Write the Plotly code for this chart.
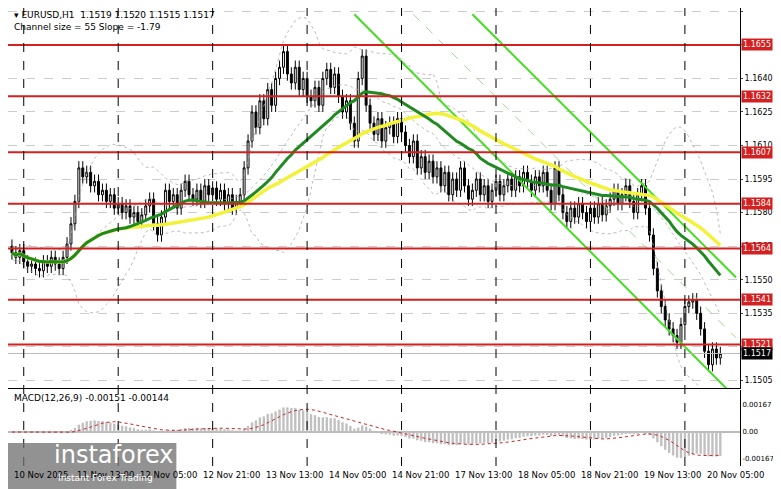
import numpy as np
import pandas as pd
import plotly.graph_objects as go

# hourly closes, bar 0 = 10 Nov 21:00
closes = [
    1.1562, 1.1560, 1.1563, 1.1558, 1.1556, 1.1557, 1.1555, 1.1554, 1.1558, 1.1556, 1.1560, 1.1557, 1.1555, 1.1560,
    1.1566, 1.1575, 1.1585, 1.1600, 1.1596, 1.1598,
    1.1592, 1.1594, 1.1588, 1.1590, 1.1585, 1.1588, 1.1582, 1.1584, 1.1580, 1.1583, 1.1578, 1.1580,
    1.1576, 1.1579, 1.1583, 1.1586, 1.1575, 1.1570, 1.1578, 1.1590, 1.1585, 1.1588, 1.1582,
    1.1590, 1.1594, 1.1588, 1.1586, 1.1590, 1.1585, 1.1592, 1.1588, 1.1591, 1.1586, 1.1590, 1.1584, 1.1588, 1.1582, 1.1585, 1.1588, 1.1600,
    1.1612, 1.1625, 1.1618, 1.1630, 1.1622, 1.1635, 1.1628, 1.1640, 1.1645, 1.1652, 1.1642,
    1.1638, 1.1645, 1.1635, 1.1640, 1.1632, 1.1630, 1.1636, 1.1628, 1.1640, 1.1644, 1.1636, 1.1642, 1.1632, 1.1625,
    1.1630, 1.1620, 1.1612, 1.1640, 1.1650, 1.1628,
    1.1620, 1.1615, 1.1622, 1.1612, 1.1618, 1.1620, 1.1614, 1.1622, 1.1616,
    1.1610, 1.1605, 1.1612, 1.1600, 1.1605, 1.1598, 1.1603, 1.1596, 1.1600, 1.1592, 1.1598, 1.1588, 1.1595, 1.1590, 1.1600, 1.1592, 1.1586,
    1.1590, 1.1595, 1.1588, 1.1592, 1.1585, 1.1590, 1.1594, 1.1588, 1.1592, 1.1595, 1.1590, 1.1596, 1.1592, 1.1598, 1.1594, 1.1590, 1.1596, 1.1592,
    1.1598, 1.1590, 1.1584, 1.1600, 1.1588, 1.1580, 1.1576, 1.1582, 1.1578, 1.1584, 1.1580, 1.1576, 1.1582, 1.1578, 1.1584, 1.1579,
    1.1583, 1.1586, 1.1590, 1.1584, 1.1588, 1.1592, 1.1585, 1.1580, 1.1588, 1.1592, 1.1582,
    1.1570, 1.1555, 1.1545, 1.1538, 1.1532, 1.1528, 1.1525, 1.1522,
    1.1530, 1.1538, 1.1540, 1.1541, 1.1535, 1.1528, 1.1518,
    1.1512, 1.1519, 1.1515, 1.1517,
]
first_open = 1.1565
wick = 0.0003

levels = [1.1655, 1.1632, 1.1607, 1.1584, 1.1564, 1.1541, 1.1521]
last_price = 1.1517
price_ticks = [1.1505, 1.1520, 1.1535, 1.1550, 1.1565, 1.1580, 1.1595, 1.1610, 1.1625, 1.1640, 1.1655, 1.1670]

tick_bars = [0, 16, 32, 48, 64, 80, 96, 112, 128, 144, 160, 176]
tick_text = ["10 Nov 2025", "11 Nov 13:00", "12 Nov 05:00", "12 Nov 21:00", "13 Nov 13:00",
             "14 Nov 05:00", "14 Nov 21:00", "17 Nov 13:00", "18 Nov 05:00", "18 Nov 21:00",
             "19 Nov 13:00", "20 Nov 05:00"]
day_bars = [3, 27, 51, 75, 99, 123, 147, 171]

# regression channel (bar, price) endpoints
chan_upper = [(117, 1.16687), (184, 1.1551)]
chan_mid = [(102, 1.16687), (184, 1.1524)]
chan_lower = [(87, 1.16687), (184, 1.1497)]

c = pd.Series(closes)
o = pd.Series([first_open] + closes[:-1])
h = np.maximum(o, c) + wick
l = np.minimum(o, c) - wick
x = np.arange(len(closes))

ma_fast = c.rolling(30, min_periods=1).mean()
ma_slow = c.rolling(50, min_periods=1).mean()
bb_mid = c.rolling(20, min_periods=1).mean()
bb_std = c.rolling(20, min_periods=2).std().bfill()
macd = c.ewm(span=12).mean() - c.ewm(span=26).mean()
signal = macd.rolling(9, min_periods=1).mean()

fig = go.Figure()
for band in (bb_mid + 2 * bb_std, bb_mid - 2 * bb_std, bb_mid):
    fig.add_trace(go.Scatter(x=x, y=band, mode="lines",
                             line=dict(color="#aaaaaa", width=0.8, dash="dot"), hoverinfo="skip"))
for pts, col, dash in ((chan_upper, "#44dd22", "solid"), (chan_mid, "#99dd88", "dash"),
                       (chan_lower, "#44dd22", "solid")):
    fig.add_trace(go.Scatter(x=[p[0] for p in pts], y=[p[1] for p in pts], mode="lines",
                             line=dict(color=col, width=2 if dash == "solid" else 1, dash=dash)))
fig.add_trace(go.Scatter(x=x, y=ma_slow, mode="lines", line=dict(color="#f2f23a", width=3.5)))
fig.add_trace(go.Scatter(x=x, y=ma_fast, mode="lines", line=dict(color="#1f8a1f", width=3)))
fig.add_trace(go.Candlestick(
    x=x, open=o, high=h, low=l, close=c,
    increasing=dict(fillcolor="white", line=dict(color="black", width=1)),
    decreasing=dict(fillcolor="black", line=dict(color="black", width=1)),
    whiskerwidth=0))

fig.add_trace(go.Bar(x=x, y=macd, marker=dict(color="#c0c0c0", line=dict(width=0)),
                     width=0.6, yaxis="y2", xaxis="x"))
fig.add_trace(go.Scatter(x=x, y=signal, mode="lines", yaxis="y2",
                         line=dict(color="#cc2222", width=1, dash="dot")))

lab_font = dict(color="white", size=8, family="DejaVu Sans")
for lv in levels:
    fig.add_shape(type="line", xref="paper", x0=0, x1=1, yref="y", y0=lv, y1=lv,
                  line=dict(color="#d42020", width=2))
    fig.add_annotation(xref="paper", x=1.002, yref="y", y=lv, text=f"{lv:.4f}", showarrow=False,
                       xanchor="left", bgcolor="#d42020", font=lab_font, borderpad=1)
fig.add_annotation(xref="paper", x=1.002, yref="y", y=last_price, text=f"{last_price:.4f}",
                   showarrow=False, xanchor="left", bgcolor="black", font=lab_font, borderpad=1)
fig.add_shape(type="line", xref="paper", x0=0, x1=1, yref="y", y0=last_price, y1=last_price,
              line=dict(color="#bbbbbb", width=1))
for b in day_bars:
    fig.add_shape(type="line", xref="x", x0=b, x1=b, yref="paper", y0=0, y1=1,
                  line=dict(color="black", width=1, dash="dash"))
for b, t in zip(tick_bars, tick_text):
    fig.add_annotation(xref="x", x=b, yref="paper", y=-0.005, text=t, showarrow=False,
                       xanchor="left", yanchor="top", font=dict(size=8.5, color="black"))

fig.add_annotation(xref="paper", x=0.005, yref="paper", y=1.0, xanchor="left", yanchor="top",
                   showarrow=False, align="left", font=dict(size=9, color="black"),
                   text="▾ EURUSD,H1  1.1519 1.1520 1.1515 1.1517<br>Channel size = 55 Slope = -1.79")
fig.add_annotation(xref="paper", x=0.005, yref="paper", y=0.163, xanchor="left", yanchor="top",
                   showarrow=False, font=dict(size=9, color="black"),
                   text="MACD(12,26,9) -0.00151 -0.00144")
fig.add_shape(type="rect", xref="paper", yref="paper", x0=-0.02, x1=0.23, y0=-0.07, y1=0.05,
              fillcolor="rgba(110,110,110,0.75)", line=dict(width=0))
fig.add_annotation(xref="paper", x=0.06, yref="paper", y=0.06, xanchor="left", yanchor="top",
                   showarrow=False, text="instaforex", font=dict(size=24, color="white"))
fig.add_annotation(xref="paper", x=0.065, yref="paper", y=-0.01, xanchor="left", yanchor="top",
                   showarrow=False, text="Instant Forex Trading", font=dict(size=9, color="white"))

fig.update_layout(
    width=773, height=481, margin=dict(l=0, r=41, t=0, b=23),
    paper_bgcolor="white", plot_bgcolor="white", showlegend=False,
    font=dict(family="DejaVu Sans", size=8, color="black"),
    xaxis=dict(range=[-1, 185], showticklabels=False, showgrid=False, zeroline=False,
               rangeslider=dict(visible=False), showline=True, linecolor="black", mirror=True),
    yaxis=dict(domain=[0.17, 1], range=[1.15015, 1.16715], side="right",
               tickvals=price_ticks, ticktext=[f"{p:.4f}" for p in price_ticks],
               gridcolor="#cccccc", griddash="dash", showline=True,
               linecolor="black", mirror=True, ticks="outside", ticklen=2),
    yaxis2=dict(domain=[0.0, 0.166], range=[-0.0021, 0.0026], side="right", anchor="x",
                tickvals=[0.00167, 0, -0.00167], ticktext=["0.00167", "0.00", "-0.00167"],
                tickfont=dict(size=7), showgrid=False, zeroline=True, zerolinecolor="#bbbbbb",
                showline=True, linecolor="black", mirror=True, ticklen=1),
)
fig.write_html("out.html")
